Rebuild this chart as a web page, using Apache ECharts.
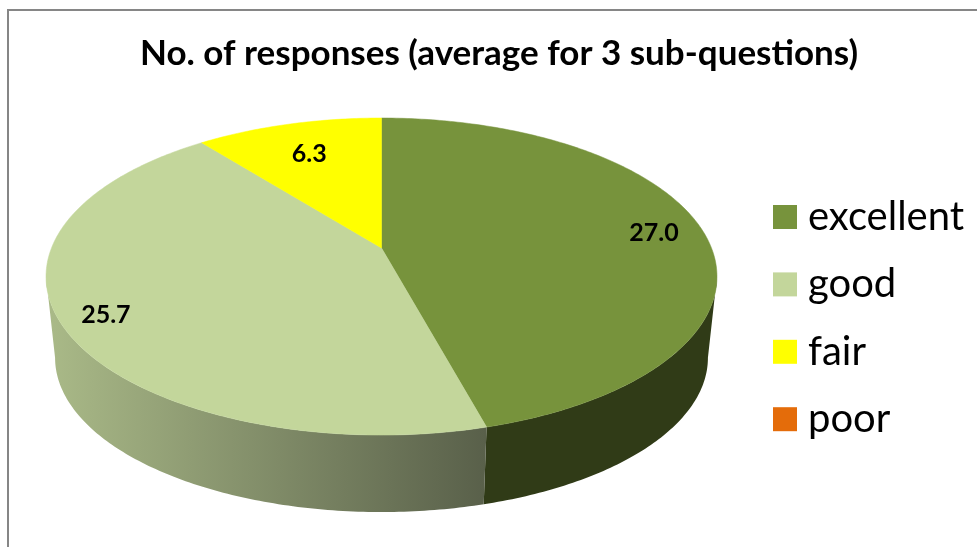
<!DOCTYPE html>
<html>
<head>
<meta charset="utf-8">
<style>html,body{margin:0;padding:0;background:#fff}#c{width:977px;height:547px}</style>
<script src="https://cdn.jsdelivr.net/npm/echarts@6/dist/echarts.min.js"></script>
</head>
<body>
<div id="c"></div>
<script>
const titleText = 'No. of responses (average for 3 sub-questions)';
const categories = ['excellent', 'good', 'fair', 'poor'];
const responses = [27.0, 25.7, 6.3, 0];

const topColors = ['#77933C', '#C3D69B', '#FFFF00', '#E46C0A'];
const wallColors = [
  '#303B17',
  { type: 'linear', x: 46, y: 0, x2: 485, y2: 0, global: true,
    colorStops: [{ offset: 0, color: '#AABA88' }, { offset: 1, color: '#59604A' }] },
  '#8A8A00',
  '#73360A'
];
const labelRadius = [0.85, 0.87, 0.75, 0.8];
const labelDrop = 2;

// Tilted-disc projection of the pie
const cx = 381.5, topApexY = 248, wallApexY = 330, wallScale = 0.973;
const a = 330, b = 153.4, k = 0.18;
const total = responses.reduce((s, v) => s + v, 0);
const frontStart = Math.acos(-k), frontEnd = 2 * Math.PI - frontStart;

function project(theta, r, apexY, scale) {
  const X = r * Math.sin(theta), Y = -r * Math.cos(theta);
  const d = 1 - k * Y;
  return [cx + scale * a * X / d, apexY + scale * b * Y / d];
}
function arc(from, to, apexY, scale) {
  const n = Math.max(2, Math.ceil((to - from) / (Math.PI / 240)));
  const pts = [];
  for (let i = 0; i <= n; i++) pts.push(project(from + (to - from) * i / n, 1, apexY, scale));
  return pts;
}
function renderSlice(params, api) {
  const idx = params.seriesIndex;
  const value = api.value(0);
  if (!value) return { type: 'group', children: [] };
  const before = responses.slice(0, idx).reduce((s, v) => s + v, 0);
  const from = before / total * 2 * Math.PI;
  const to = (before + value) / total * 2 * Math.PI;
  const mid = (from + to) / 2;
  const lp = project(mid, labelRadius[idx], topApexY, 1);
  const children = [];
  const wFrom = Math.max(from, frontStart), wTo = Math.min(to, frontEnd);
  if (wTo > wFrom) {
    children.push({ type: 'polygon', z2: 1,
      shape: { points: arc(wFrom, wTo, topApexY, 1).concat(arc(wFrom, wTo, wallApexY, wallScale).reverse()) },
      style: { fill: wallColors[idx] } });
  }
  children.push({ type: 'polygon', z2: 10,
    shape: { points: [project(0, 0, topApexY, 1)].concat(arc(from, to, topApexY, 1)) },
    style: { fill: topColors[idx], stroke: topColors[idx], lineWidth: 0.5 } });
  children.push({ type: 'text', z2: 20,
    style: { text: value.toFixed(1), x: lp[0], y: lp[1] + labelDrop, align: 'center', verticalAlign: 'middle',
      fill: '#000', fontSize: 25, fontWeight: 'bold', fontFamily: 'Lato' } });
  return { type: 'group', children };
}

const chart = echarts.init(document.getElementById('c'), null, { renderer: 'canvas' });
chart.setOption({
  animation: false,
  backgroundColor: '#fff',
  title: {
    text: titleText, left: 499, top: 36, textAlign: 'center', padding: 0,
    textStyle: { fontFamily: 'Lato', fontSize: 35, fontWeight: 'bold', color: '#000' }
  },
  legend: {
    orient: 'vertical', left: 773, top: 197, padding: 0,
    itemWidth: 24, itemHeight: 24, itemGap: 27.4, icon: 'rect',
    data: categories,
    selectedMode: false,
    textStyle: { fontFamily: 'Lato', fontSize: 40, color: '#000', padding: [0, 0, 0, 6] }
  },
  graphic: [{
    type: 'polyline', silent: true,
    shape: { points: [[8, 547], [8, 10], [977, 10]] },
    style: { stroke: '#868686', lineWidth: 2, fill: null }
  }],
  series: categories.map((name, i) => ({
    type: 'custom', name, coordinateSystem: 'none', silent: true,
    itemStyle: { color: topColors[i] },
    renderItem: renderSlice,
    data: [[responses[i]]]
  }))
});
</script>
</body>
</html>
